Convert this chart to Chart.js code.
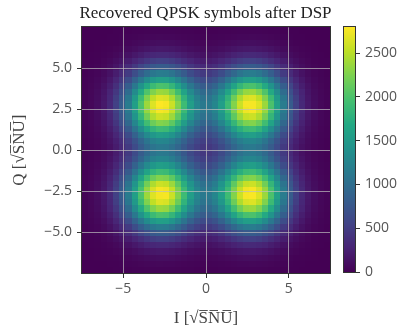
<!DOCTYPE html>
<html>
<head>
<meta charset="utf-8">
<script src="https://cdn.jsdelivr.net/npm/chart.js@4.4.0/dist/chart.umd.min.js"></script>
<style>
  html, body { margin: 0; padding: 0; background: #fff; }
  #wrap { position: relative; width: 408px; height: 333px; }
  #main { position: absolute; left: 0; top: 0; }
  #cbar { position: absolute; left: 343px; top: 0; }
</style>
</head>
<body>
<div id="wrap">
  <canvas id="main" width="408" height="333"></canvas>
  <canvas id="cbar" width="65" height="333"></canvas>
</div>
<script>
// bin centres, same for I and Q
var binCenters = [-7.3125, -6.9375, -6.5625, -6.1875, -5.8125, -5.4375, -5.0625, -4.6875, -4.3125, -3.9375,
  -3.5625, -3.1875, -2.8125, -2.4375, -2.0625, -1.6875, -1.3125, -0.9375, -0.5625, -0.1875,
  0.1875, 0.5625, 0.9375, 1.3125, 1.6875, 2.0625, 2.4375, 2.8125, 3.1875, 3.5625,
  3.9375, 4.3125, 4.6875, 5.0625, 5.4375, 5.8125, 6.1875, 6.5625, 6.9375, 7.3125];
var binWidth = 0.375;

var xTicks = [-5, 0, 5];
var yTicks = [-5, -2.5, 0, 2.5, 5];
var cbTicks = [0, 500, 1000, 1500, 2000, 2500];

// counts[row][col]: row = Q bin (bottom to top), col = I bin (left to right)
var counts = [
  [0,0,1,2,3,5,7,10,14,18,21,23,25,24,23,20,17,14,11,10,10,11,14,17,20,23,24,25,23,21,18,14,10,7,5,3,2,1,0,0],
  [0,1,2,3,6,10,15,22,29,37,44,49,52,51,48,42,35,29,24,21,21,24,29,35,42,48,51,52,49,44,37,29,22,15,10,6,3,2,1,0],
  [1,2,4,7,12,19,29,42,57,72,86,97,102,101,94,83,69,56,46,41,41,46,56,69,83,94,101,102,97,86,72,57,42,29,19,12,7,4,2,1],
  [2,3,7,13,22,36,54,78,105,134,159,178,188,186,173,152,128,104,86,76,76,86,104,128,152,173,186,188,178,159,134,105,78,54,36,22,13,7,3,2],
  [3,6,12,22,38,62,94,136,183,232,276,309,325,322,300,264,222,181,149,131,131,149,181,222,264,300,322,325,309,276,232,183,136,94,62,38,22,12,6,3],
  [5,10,19,36,62,100,154,221,298,378,450,504,530,524,488,430,361,294,242,214,214,242,294,361,430,488,524,530,504,450,378,298,221,154,100,62,36,19,10,5],
  [7,15,29,54,94,154,235,337,456,578,688,770,810,802,747,658,552,450,370,327,327,370,450,552,658,747,802,810,770,688,578,456,337,235,154,94,54,29,15,7],
  [10,22,42,78,136,221,337,485,655,830,989,1107,1165,1152,1073,945,793,647,532,470,470,532,647,793,945,1073,1152,1165,1107,989,830,655,485,337,221,136,78,42,22,10],
  [14,29,57,105,183,298,456,655,883,1120,1335,1494,1572,1555,1449,1276,1071,873,718,634,634,718,873,1071,1276,1449,1555,1572,1494,1335,1120,883,655,456,298,183,105,57,29,14],
  [18,37,72,134,232,378,578,830,1120,1421,1692,1895,1993,1972,1837,1618,1358,1107,911,804,804,911,1107,1358,1618,1837,1972,1993,1895,1692,1421,1120,830,578,378,232,134,72,37,18],
  [21,44,86,159,276,450,688,989,1335,1692,2016,2257,2374,2349,2189,1927,1617,1318,1085,958,958,1085,1318,1617,1927,2189,2349,2374,2257,2016,1692,1335,989,688,450,276,159,86,44,21],
  [23,49,97,178,309,504,770,1107,1494,1895,2257,2527,2658,2630,2450,2158,1811,1476,1215,1072,1072,1215,1476,1811,2158,2450,2630,2658,2527,2257,1895,1494,1107,770,504,309,178,97,49,23],
  [25,52,102,188,325,530,810,1165,1572,1993,2374,2658,2752,2767,2578,2270,1905,1553,1278,1128,1128,1278,1553,1905,2270,2578,2767,2781,2658,2374,1993,1572,1165,810,530,325,188,102,52,25],
  [24,51,101,186,322,524,802,1152,1555,1972,2349,2630,2767,2737,2550,2245,1884,1536,1264,1116,1116,1264,1536,1884,2245,2550,2737,2767,2630,2349,1972,1555,1152,802,524,322,186,101,51,24],
  [23,48,94,173,300,488,747,1073,1449,1837,2189,2450,2578,2550,2376,2092,1756,1431,1178,1040,1040,1178,1431,1756,2092,2376,2550,2578,2450,2189,1837,1449,1073,747,488,300,173,94,48,23],
  [20,42,83,152,264,430,658,945,1276,1618,1927,2158,2270,2245,2092,1842,1546,1260,1037,916,916,1037,1260,1546,1842,2092,2245,2270,2158,1927,1618,1276,945,658,430,264,152,83,42,20],
  [17,35,69,128,222,361,552,793,1071,1358,1617,1811,1905,1884,1756,1546,1297,1058,870,768,768,870,1058,1297,1546,1756,1884,1905,1811,1617,1358,1071,793,552,361,222,128,69,35,17],
  [14,29,56,104,181,294,450,647,873,1107,1318,1476,1553,1536,1431,1260,1058,862,710,626,626,710,862,1058,1260,1431,1536,1553,1476,1318,1107,873,647,450,294,181,104,56,29,14],
  [11,24,46,86,149,242,370,532,718,911,1085,1215,1278,1264,1178,1037,870,710,584,516,516,584,710,870,1037,1178,1264,1278,1215,1085,911,718,532,370,242,149,86,46,24,11],
  [10,21,41,76,131,214,327,470,634,804,958,1072,1128,1116,1040,916,768,626,516,455,455,516,626,768,916,1040,1116,1128,1072,958,804,634,470,327,214,131,76,41,21,10],
  [10,21,41,76,131,214,327,470,634,804,958,1072,1128,1116,1040,916,768,626,516,455,455,516,626,768,916,1040,1116,1128,1072,958,804,634,470,327,214,131,76,41,21,10],
  [11,24,46,86,149,242,370,532,718,911,1085,1215,1278,1264,1178,1037,870,710,584,516,516,584,710,870,1037,1178,1264,1278,1215,1085,911,718,532,370,242,149,86,46,24,11],
  [14,29,56,104,181,294,450,647,873,1107,1318,1476,1553,1536,1431,1260,1058,862,710,626,626,710,862,1058,1260,1431,1536,1553,1476,1318,1107,873,647,450,294,181,104,56,29,14],
  [17,35,69,128,222,361,552,793,1071,1358,1617,1811,1905,1884,1756,1546,1297,1058,870,768,768,870,1058,1297,1546,1756,1884,1905,1811,1617,1358,1071,793,552,361,222,128,69,35,17],
  [20,42,83,152,264,430,658,945,1276,1618,1927,2158,2270,2245,2092,1842,1546,1260,1037,916,916,1037,1260,1546,1842,2092,2245,2270,2158,1927,1618,1276,945,658,430,264,152,83,42,20],
  [23,48,94,173,300,488,747,1073,1449,1837,2189,2450,2578,2550,2376,2092,1756,1431,1178,1040,1040,1178,1431,1756,2092,2376,2550,2578,2450,2189,1837,1449,1073,747,488,300,173,94,48,23],
  [24,51,101,186,322,524,802,1152,1555,1972,2349,2630,2767,2737,2550,2245,1884,1536,1264,1116,1116,1264,1536,1884,2245,2550,2737,2767,2630,2349,1972,1555,1152,802,524,322,186,101,51,24],
  [25,52,102,188,325,530,810,1165,1572,1993,2374,2658,2797,2767,2578,2270,1905,1553,1278,1128,1128,1278,1553,1905,2270,2578,2767,2768,2658,2374,1993,1572,1165,810,530,325,188,102,52,25],
  [23,49,97,178,309,504,770,1107,1494,1895,2257,2527,2658,2630,2450,2158,1811,1476,1215,1072,1072,1215,1476,1811,2158,2450,2630,2658,2527,2257,1895,1494,1107,770,504,309,178,97,49,23],
  [21,44,86,159,276,450,688,989,1335,1692,2016,2257,2374,2349,2189,1927,1617,1318,1085,958,958,1085,1318,1617,1927,2189,2349,2374,2257,2016,1692,1335,989,688,450,276,159,86,44,21],
  [18,37,72,134,232,378,578,830,1120,1421,1692,1895,1993,1972,1837,1618,1358,1107,911,804,804,911,1107,1358,1618,1837,1972,1993,1895,1692,1421,1120,830,578,378,232,134,72,37,18],
  [14,29,57,105,183,298,456,655,883,1120,1335,1494,1572,1555,1449,1276,1071,873,718,634,634,718,873,1071,1276,1449,1555,1572,1494,1335,1120,883,655,456,298,183,105,57,29,14],
  [10,22,42,78,136,221,337,485,655,830,989,1107,1165,1152,1073,945,793,647,532,470,470,532,647,793,945,1073,1152,1165,1107,989,830,655,485,337,221,136,78,42,22,10],
  [7,15,29,54,94,154,235,337,456,578,688,770,810,802,747,658,552,450,370,327,327,370,450,552,658,747,802,810,770,688,578,456,337,235,154,94,54,29,15,7],
  [5,10,19,36,62,100,154,221,298,378,450,504,530,524,488,430,361,294,242,214,214,242,294,361,430,488,524,530,504,450,378,298,221,154,100,62,36,19,10,5],
  [3,6,12,22,38,62,94,136,183,232,276,309,325,322,300,264,222,181,149,131,131,149,181,222,264,300,322,325,309,276,232,183,136,94,62,38,22,12,6,3],
  [2,3,7,13,22,36,54,78,105,134,159,178,188,186,173,152,128,104,86,76,76,86,104,128,152,173,186,188,178,159,134,105,78,54,36,22,13,7,3,2],
  [1,2,4,7,12,19,29,42,57,72,86,97,102,101,94,83,69,56,46,41,41,46,56,69,83,94,101,102,97,86,72,57,42,29,19,12,7,4,2,1],
  [0,1,2,3,6,10,15,22,29,37,44,49,52,51,48,42,35,29,24,21,21,24,29,35,42,48,51,52,49,44,37,29,22,15,10,6,3,2,1,0],
  [0,0,1,2,3,5,7,10,14,18,21,23,25,24,23,20,17,14,11,10,10,11,14,17,20,23,24,25,23,21,18,14,10,7,5,3,2,1,0,0]
];

// viridis stops at 0, 0.1, ... 1
var viridisStops = ['#440154', '#482475', '#414487', '#355f8d', '#2a788e', '#21918c',
  '#22a884', '#44bf70', '#7ad151', '#bddf26', '#fde725'];

function hexToRgb(h) {
  return [parseInt(h.substr(1, 2), 16), parseInt(h.substr(3, 2), 16), parseInt(h.substr(5, 2), 16)];
}
var viridisRgb = viridisStops.map(hexToRgb);

function viridis(t) {
  t = Math.max(0, Math.min(1, t));
  var f = t * 10, i = Math.min(9, Math.floor(f)), u = f - i;
  var a = viridisRgb[i], b = viridisRgb[i + 1];
  return 'rgb(' + Math.round(a[0] + (b[0] - a[0]) * u) + ',' +
    Math.round(a[1] + (b[1] - a[1]) * u) + ',' + Math.round(a[2] + (b[2] - a[2]) * u) + ')';
}

var vmax = 0;
var cells = [];
counts.forEach(function(row, r) {
  row.forEach(function(v, c) {
    cells.push({x: binCenters[c], y: binCenters[r], v: v});
    if (v > vmax) vmax = v;
  });
});

function minusSign(s) { return s.replace('-', '\u2212'); }

var tickFont = {family: "'Open Sans', sans-serif", size: 14};
var tickColor = '#555';
var gridColor = 'rgba(190,190,190,0.7)';
var serif = "'Liberation Serif', serif";
var unit = '[\u221AS\u0305N\u0305U\u0305]';

var heatmapPlugin = {
  id: 'heatmap',
  beforeDatasetsDraw: function(chart) {
    var ctx = chart.ctx, xs = chart.scales.x, ys = chart.scales.y;
    var pts = chart.data.datasets[0].data;
    ctx.save();
    for (var k = 0; k < pts.length; k++) {
      var p = pts[k];
      var x0 = Math.round(xs.getPixelForValue(p.x - binWidth / 2));
      var x1 = Math.round(xs.getPixelForValue(p.x + binWidth / 2));
      var y0 = Math.round(ys.getPixelForValue(p.y + binWidth / 2));
      var y1 = Math.round(ys.getPixelForValue(p.y - binWidth / 2));
      ctx.fillStyle = viridis(p.v / vmax);
      ctx.fillRect(x0, y0, x1 - x0, y1 - y0);
    }
    ctx.restore();
  }
};

var framePlugin = {
  id: 'frame',
  afterDraw: function(chart) {
    var a = chart.chartArea, ctx = chart.ctx;
    ctx.save();
    ctx.strokeStyle = '#333';
    ctx.lineWidth = 1;
    ctx.strokeRect(Math.round(a.left) - 0.5, Math.round(a.top) - 0.5,
      Math.round(a.right - a.left) + 1, Math.round(a.bottom - a.top) + 1);
    ctx.restore();
  }
};

new Chart(document.getElementById('main'), {
  type: 'scatter',
  data: {
    datasets: [{ data: cells, pointRadius: 0, pointHoverRadius: 0 }]
  },
  options: {
    responsive: false,
    animation: false,
    events: [],
    layout: { padding: { left: 3, right: 0, top: 0, bottom: 0 } },
    plugins: {
      legend: { display: false },
      tooltip: { enabled: false },
      title: {
        display: true,
        text: 'Recovered QPSK symbols after DSP',
        font: { family: serif, size: 17, weight: 'normal', lineHeight: 1.2 },
        color: '#222',
        padding: { top: 3, bottom: 4 }
      }
    },
    scales: {
      x: {
        type: 'linear',
        min: -7.5,
        max: 7.5,
        afterBuildTicks: function(s) { s.ticks = xTicks.map(function(v) { return {value: v}; }); },
        afterFit: function(s) { s.height = 60; },
        grid: { z: 1, color: gridColor, tickColor: '#333', tickLength: 5 },
        border: { display: false },
        ticks: {
          font: tickFont, color: tickColor, padding: 3, maxRotation: 0, autoSkip: false,
          callback: function(v) { return minusSign(String(v)); }
        },
        title: {
          display: true,
          text: 'I ' + unit,
          font: { family: serif, size: 17, lineHeight: 1.2 },
          color: '#444',
          padding: { top: 0, bottom: 4 }
        }
      },
      y: {
        type: 'linear',
        min: -7.5,
        max: 7.5,
        afterBuildTicks: function(s) { s.ticks = yTicks.map(function(v) { return {value: v}; }); },
        afterFit: function(s) { s.width = 79; },
        grid: { z: 1, color: gridColor, tickColor: '#333', tickLength: 5 },
        border: { display: false },
        ticks: {
          font: tickFont, color: tickColor, padding: 5, autoSkip: false,
          callback: function(v) { return minusSign(v.toFixed(1)); }
        },
        title: {
          display: true,
          text: 'Q ' + unit,
          font: { family: serif, size: 17, lineHeight: 1.2 },
          color: '#444',
          padding: { top: 6, bottom: 0 }
        }
      },
      // empty space reserved on the right for the colour bar
      pad: {
        axis: 'y',
        position: 'right',
        grid: { display: false, drawTicks: false },
        border: { display: false },
        ticks: { display: false },
        afterFit: function(s) { s.width = 78; }
      }
    }
  },
  plugins: [heatmapPlugin, framePlugin]
});

var colorbarPlugin = {
  id: 'colorbar',
  beforeDatasetsDraw: function(chart) {
    var a = chart.chartArea, ctx = chart.ctx;
    var g = ctx.createLinearGradient(0, a.bottom, 0, a.top);
    viridisStops.forEach(function(c, i) { g.addColorStop(i / 10, c); });
    ctx.save();
    ctx.fillStyle = g;
    ctx.fillRect(a.left, a.top, a.right - a.left, a.bottom - a.top);
    ctx.strokeStyle = '#333';
    ctx.lineWidth = 1;
    ctx.strokeRect(Math.round(a.left) + 0.5, Math.round(a.top) - 0.5,
      Math.round(a.right - a.left) - 1, Math.round(a.bottom - a.top) + 1);
    ctx.restore();
  }
};

new Chart(document.getElementById('cbar'), {
  type: 'scatter',
  data: { datasets: [{ data: [] }] },
  options: {
    responsive: false,
    animation: false,
    events: [],
    layout: { padding: { left: 0, right: 0, top: 27, bottom: 61 } },
    plugins: { legend: { display: false }, tooltip: { enabled: false } },
    scales: {
      x: { display: false, min: 0, max: 1 },
      y: {
        position: 'right',
        min: 0,
        max: vmax,
        afterBuildTicks: function(s) { s.ticks = cbTicks.map(function(v) { return {value: v}; }); },
        afterFit: function(s) { s.width = 52; },
        grid: { drawOnChartArea: false, tickColor: '#333', tickLength: 4 },
        border: { display: false },
        ticks: {
          font: tickFont, color: tickColor, padding: 5, autoSkip: false,
          callback: function(v) { return String(v); }
        }
      }
    }
  },
  plugins: [colorbarPlugin]
});
</script>
</body>
</html>
